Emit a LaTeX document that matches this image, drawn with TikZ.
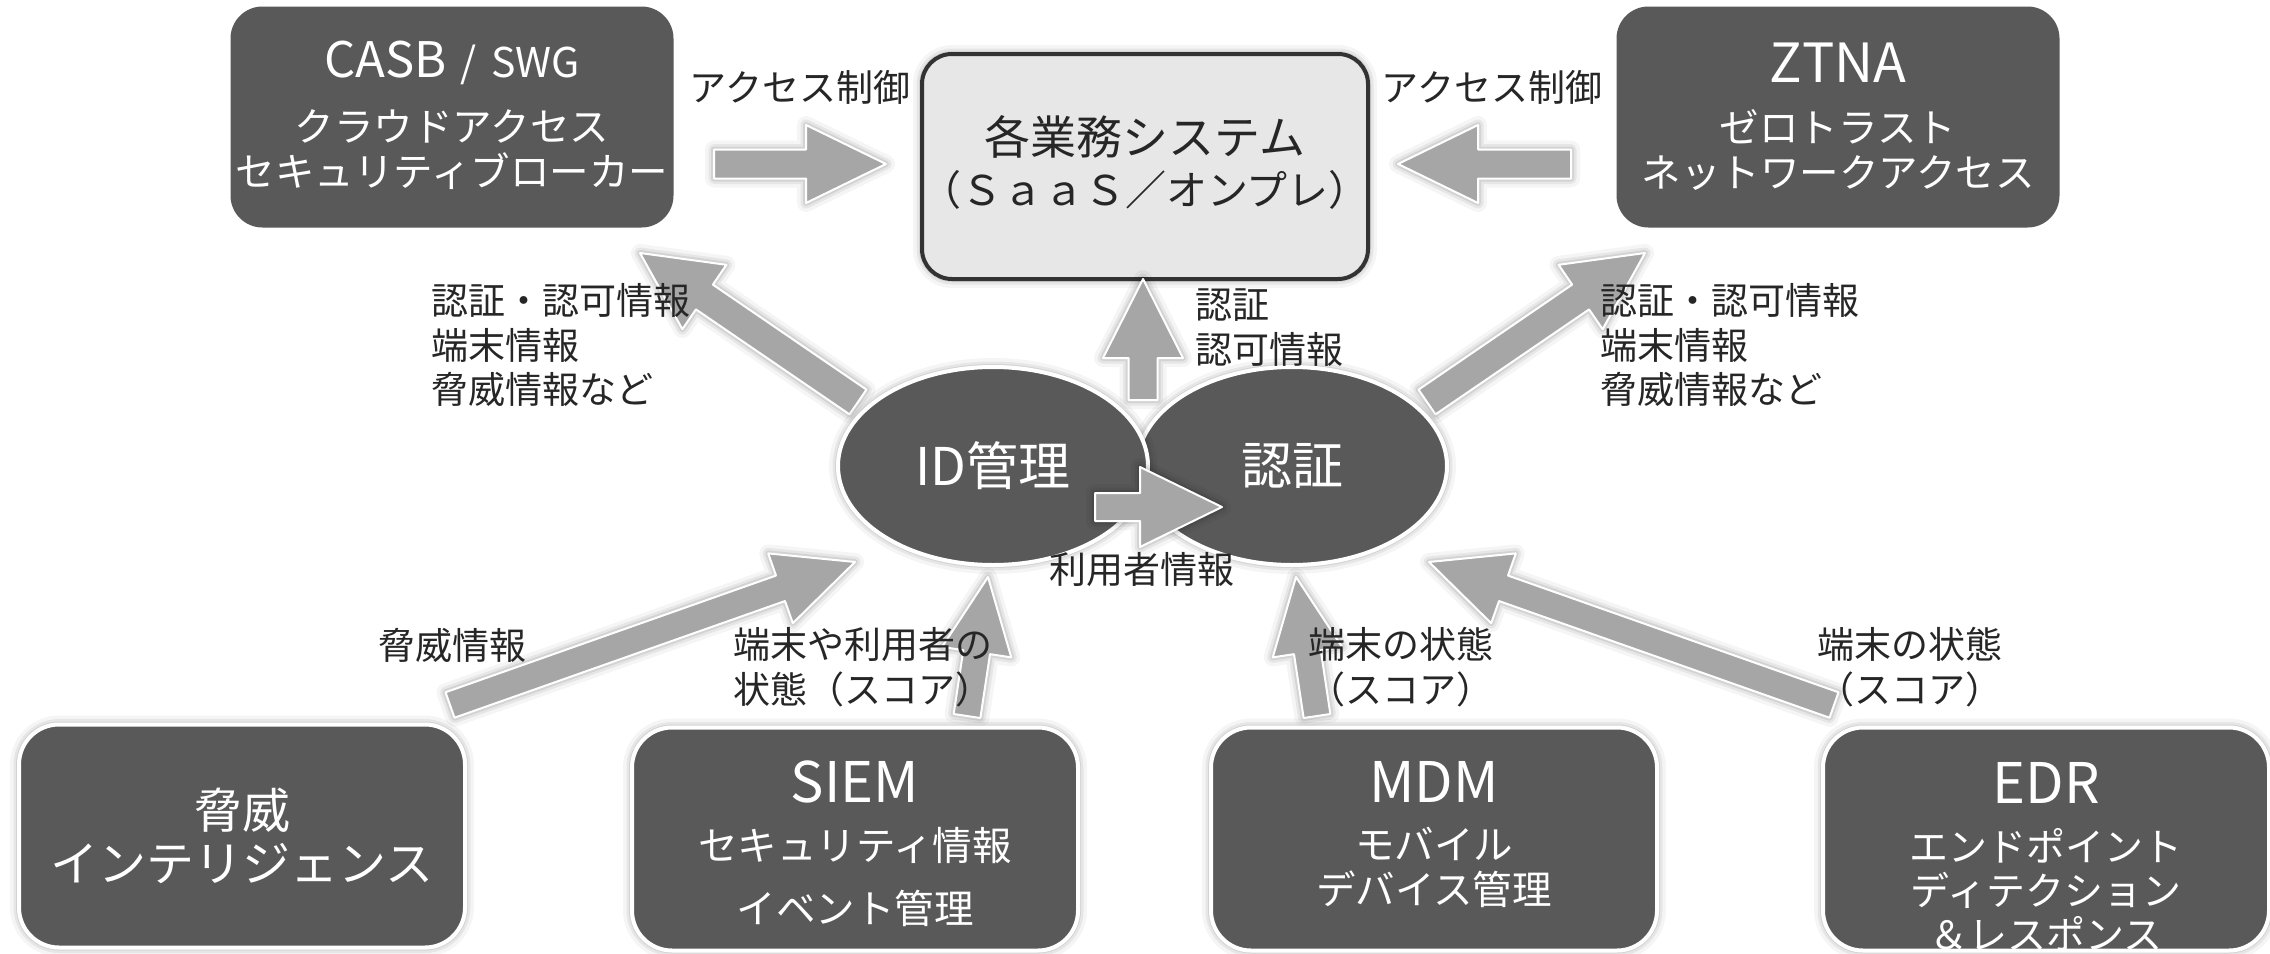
\documentclass[tikz,border=0pt]{standalone}
\usepackage{fontspec}
\setmainfont{Noto Sans CJK JP}
\usetikzlibrary{calc,shapes.geometric}
\definecolor{boxgray}{HTML}{595959}
\definecolor{arrgray}{HTML}{A6A6A6}
\definecolor{svcfill}{HTML}{E7E7E7}
\definecolor{svcline}{HTML}{333333}
\definecolor{txt}{HTML}{262626}
\tikzset{
 glow/.style={preaction={draw=black,opacity=0.04,line width=18pt,line join=round},
              preaction={draw=black,opacity=0.06,line width=11pt,line join=round},
              preaction={draw=black,opacity=0.08,line width=6pt,line join=round}},
 topbox/.style={rectangle, rounded corners=32pt, fill=boxgray, inner sep=0pt, minimum width=443pt, minimum height=221pt},
 lowbox/.style={rectangle, rounded corners=40pt, fill=boxgray, draw=white, line width=4pt, glow, inner sep=0pt, minimum width=446pt, minimum height=223pt},
 svcbox/.style={rectangle, rounded corners=30pt, fill=svcfill, draw=svcline, line width=4pt, glow, inner sep=0pt, minimum width=446pt, minimum height=225pt},
 oval/.style={ellipse, fill=boxgray, draw=white, line width=4pt, glow, minimum width=310pt, minimum height=198pt, inner sep=0pt},
 blk/.style={fill=arrgray, draw=white, line width=2pt, line join=round, glow},
 wt/.style={text=white, align=center, inner sep=0pt},
 lbl/.style={text=txt, align=left, inner sep=0pt, font=\fontsize{37}{44.5}\selectfont},
}
\newcommand{\blockarr}[5]{%
 \coordinate (#1#2hb) at ($(#2)!#5!(#1)$);
 \path[blk] ($(#1)!#3!90:(#2)$) -- ($(#1#2hb)!#3!90:(#2)$) -- ($(#1#2hb)!#4!90:(#2)$) -- (#2)
   -- ($(#1#2hb)!#4!-90:(#2)$) -- ($(#1#2hb)!#3!-90:(#2)$) -- ($(#1)!#3!-90:(#2)$) -- cycle;
}
\begin{document}
\begin{tikzpicture}[x=1pt,y=-1pt]
\useasboundingbox[fill=white] (0,0) rectangle (2270,953);

% top boxes
\node[topbox] (casb) at (452,117) {};
\node[topbox] (ztna) at (1838,117) {};
\node[svcbox] (svc) at (1145,166.5) {};

% arrow end points
\coordinate (c1) at (714,164); \coordinate (c2) at (886,164);
\coordinate (z1) at (1571,164); \coordinate (z2) at (1398,164);
\coordinate (u1) at (1143,400); \coordinate (u2) at (1143,279);
\coordinate (dl1) at (858,402); \coordinate (dl2) at (640,253);
\coordinate (dr1) at (1427,402); \coordinate (dr2) at (1645,253);
\coordinate (t1) at (450,705); \coordinate (t2) at (855,562);
\coordinate (s1) at (967,716); \coordinate (s2) at (988,577);
\coordinate (m1) at (1317,716); \coordinate (m2) at (1296,577);
\coordinate (e1) at (1834,705); \coordinate (e2) at (1429,562);
\coordinate (h1) at (1095,507); \coordinate (h2) at (1222,507);

\blockarr{c1}{c2}{14.5pt}{39pt}{80pt}
\blockarr{z1}{z2}{14.5pt}{39pt}{80pt}
\blockarr{u1}{u2}{14.5pt}{40pt}{79pt}
\blockarr{dl1}{dl2}{15pt}{39pt}{78pt}
\blockarr{dr1}{dr2}{15pt}{39pt}{78pt}
\blockarr{t1}{t2}{13.5pt}{37pt}{79pt}
\blockarr{s1}{s2}{13.5pt}{35pt}{76pt}
\blockarr{m1}{m2}{13.5pt}{35pt}{76pt}
\blockarr{e1}{e2}{13.5pt}{37pt}{79pt}

% ellipses
\node[oval] (auth) at (1292,466) {};
\node[oval] (idm) at (993,466) {};
\blockarr{h1}{h2}{14pt}{40pt}{82pt}

% bottom boxes
\node[lowbox] (threat) at (242,836) {};
\node[lowbox] (siem) at (855,839) {};
\node[lowbox] (mdm) at (1434,839) {};
\node[lowbox] (edr) at (2046,839) {};

% texts in top boxes
\node[wt] (casbT) at (452,63) {{\fontsize{49}{49}\selectfont CASB}{\fontsize{41}{41}\selectfont\hspace{0.35em}/\hspace{0.35em}SWG}};
\node[wt, font=\fontsize{39.5}{45}\selectfont] (casbB) at (452,149.5) {クラウドアクセス\\セキュリティブローカー};
\node[wt, font=\fontsize{54}{54}\selectfont] (ztnaT) at (1838,63) {ZTNA};
\node[wt, font=\fontsize{39.5}{45}\selectfont] (ztnaB) at (1838,149.5) {ゼロトラスト\\ネットワークアクセス};
\node[text=txt, inner sep=0pt, font=\fontsize{46}{46}\selectfont] (svcT) at (1145,137) {各業務システム};
\node[text=txt, inner sep=0pt, font=\fontsize{41}{41}\selectfont] (svcB) at (1145,190) {（ＳａａＳ／オンプレ）};

% ellipse texts
\node[wt, font=\fontsize{52}{52}\selectfont] (idmT) at (993,466) {ID管理};
\node[wt, font=\fontsize{51}{51}\selectfont] (authT) at (1292,466) {認証};

% bottom box texts
\node[wt, font=\fontsize{48}{53}\selectfont] (threatT) at (242,836) {脅威\\インテリジェンス};
\node[wt, font=\fontsize{56}{56}\selectfont] (siemT) at (855,782) {SIEM};
\node[wt, font=\fontsize{39.5}{63}\selectfont] (siemB) at (855,876.5) {セキュリティ情報\\イベント管理};
\node[wt, font=\fontsize{56}{56}\selectfont] (mdmT) at (1434,782) {MDM};
\node[wt, font=\fontsize{39.5}{45}\selectfont] (mdmB) at (1434,867.5) {モバイル\\デバイス管理};
\node[wt, font=\fontsize{56}{56}\selectfont] (edrT) at (2046,783) {EDR};
\node[wt, font=\fontsize{39}{44}\selectfont] (edrB) at (2046,890) {エンドポイント\\ディテクション\\＆レスポンス};

% labels
\node[lbl, align=center] (acl) at (800,87) {アクセス制御};
\node[lbl, align=center] (acr) at (1492,87) {アクセス制御};
\node[lbl, anchor=west] (infl) at (431,345) {認証・認可情報\\端末情報\\脅威情報など};
\node[lbl, anchor=west] (infr) at (1600,345) {認証・認可情報\\端末情報\\脅威情報など};
\node[lbl, anchor=west] (authz) at (1195,327.5) {認証\\認可情報};
\node[lbl, align=center] (user) at (1142,570) {利用者情報};
\node[lbl, align=center] (thr) at (452,645) {脅威情報};
\node[lbl, anchor=west] (siemL) at (733,667) {端末や利用者の\\状態（スコア）};
\node[lbl, anchor=west] (mdmL) at (1308,667) {端末の状態\\（スコア）};
\node[lbl, anchor=west] (edrL) at (1817,667) {端末の状態\\（スコア）};
\end{tikzpicture}
\end{document}
